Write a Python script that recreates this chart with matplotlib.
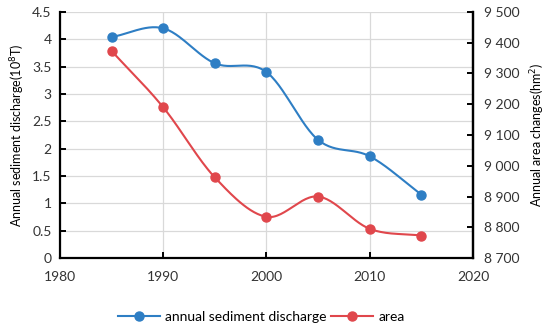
import numpy as np
import matplotlib
matplotlib.use("Agg")
from matplotlib import pyplot as plt
from matplotlib.ticker import FuncFormatter

# data
years = [1985, 1990, 1995, 2000, 2005, 2010, 2015]
sediment = [4.04, 4.20, 3.56, 3.40, 2.16, 1.86, 1.16]
area = [9373, 9190, 8962, 8834, 8900, 8795, 8773]


def smooth(x, y, n=30):
    # catmull-rom curve like excel's "smoothed line"
    x = np.asarray(x, float)
    y = np.asarray(y, float)
    px = np.concatenate([[2 * x[0] - x[1]], x, [2 * x[-1] - x[-2]]])
    py = np.concatenate([[2 * y[0] - y[1]], y, [2 * y[-1] - y[-2]]])
    xs, ys = [], []
    t = np.linspace(0, 1, n)
    for i in range(1, len(px) - 2):
        for p, out in ((px, xs), (py, ys)):
            p0, p1, p2, p3 = p[i - 1], p[i], p[i + 1], p[i + 2]
            out.extend(0.5 * (2 * p1 + (-p0 + p2) * t
                              + (2 * p0 - 5 * p1 + 4 * p2 - p3) * t ** 2
                              + (-p0 + 3 * p1 - 3 * p2 + p3) * t ** 3))
    return xs, ys


plt.rcParams['font.family'] = ['Lato', 'DejaVu Sans']
blue = '#2E7EC4'
red = '#E0474C'

fig = plt.figure(figsize=(5.5, 3.3), dpi=100)
ax = fig.add_axes([0.109, 0.218, 0.751, 0.746])
ax2 = ax.twinx()

ax.set_xlim(1980, 2020)
ax.set_ylim(0, 4.5)
ax.set_xticks([1980, 1990, 2000, 2010, 2020])
ax.set_yticks(np.arange(0, 4.51, 0.5))
ax.yaxis.set_major_formatter(FuncFormatter(lambda v, p: '%g' % v))
ax.grid(True, color='#d9d9d9', linewidth=0.9)
ax.set_axisbelow(True)

ax2.set_ylim(8700, 9500)
ax2.set_yticks(np.arange(8700, 9501, 100))
ax2.yaxis.set_major_formatter(FuncFormatter(lambda v, p: '{:,.0f}'.format(v).replace(',', ' ')))

sx, sy = smooth(years, sediment)
ax.plot(sx, sy, color=blue, linewidth=1.5)
ax.plot(years, sediment, 'o', color=blue, markersize=6.5)
ax2_x, ax2_y = smooth(years, area)
ax2.plot(ax2_x, ax2_y, color=red, linewidth=1.5)
ax2.plot(years, area, 'o', color=red, markersize=6.5)

for a in (ax, ax2):
    a.spines['top'].set_visible(False)
    for s in ('left', 'right', 'bottom'):
        a.spines[s].set_linewidth(1.6)
        a.spines[s].set_color('black')
    a.tick_params(direction='in', length=4, width=1.4, labelsize=10, colors='black')
    a.tick_params(axis='both', labelcolor='#333333')
ax.tick_params(axis='x', pad=9)
ax2.tick_params(axis='y', pad=8)
ax.tick_params(axis='y', pad=6)
ax2.spines['left'].set_visible(False)
ax2.spines['bottom'].set_visible(False)

ax.set_ylabel('Annual sediment discharge(10$^8$T)', fontsize=9, labelpad=4)
ax2.set_ylabel('Annual area changes(hm$^2$)', fontsize=9, labelpad=6)

h1, = ax.plot([], [], '-o', color=blue, linewidth=1.5, markersize=6.5)
h2, = ax.plot([], [], '-o', color=red, linewidth=1.5, markersize=6.5)
fig.legend([h1, h2], ['annual sediment discharge', 'area'], loc='center',
           bbox_to_anchor=(0.475, 0.04), ncol=2, frameon=False, fontsize=10,
           handlelength=3, columnspacing=0.3, handletextpad=0.4)

fig.savefig('out.png', dpi=100)
